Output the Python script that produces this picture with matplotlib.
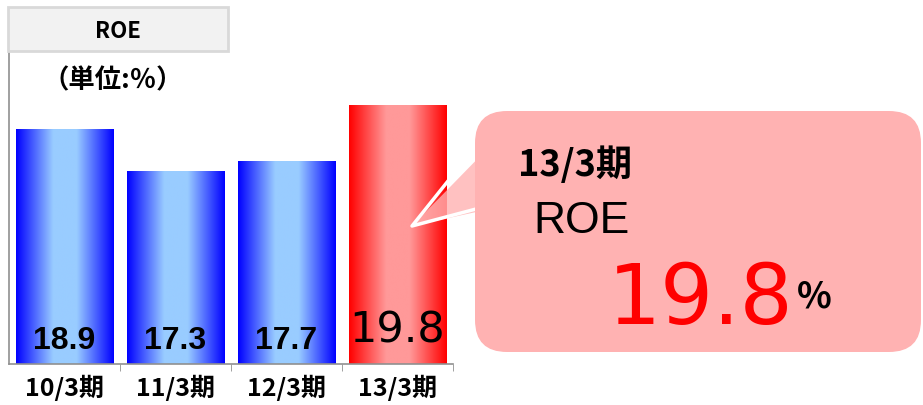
import matplotlib
matplotlib.use("Agg")
import matplotlib.pyplot as plt
import numpy as np
from matplotlib.colors import LinearSegmentedColormap
from matplotlib.patches import FancyBboxPatch, Rectangle, Polygon

plt.rcParams['font.family'] = ['Noto Sans CJK JP', 'DejaVu Sans']

periods = ["10/3期", "11/3期", "12/3期", "13/3期"]
roe = [18.9, 17.3, 17.7, 19.8]
labels = ["18.9", "17.3", "17.7", "19.8"]

W, H = 923, 406
fig = plt.figure(figsize=(W / 100, H / 100), dpi=100)
ax = fig.add_axes([9 / W, 41 / H, 444 / W, 317 / H])

blue = LinearSegmentedColormap.from_list(
    "b", [(0, "#0000ff"), (0.38, "#99ccff"), (0.62, "#99ccff"), (1, "#0000ff")])
red = LinearSegmentedColormap.from_list(
    "r", [(0, "#ff0000"), (0.38, "#ff9999"), (0.62, "#ff9999"), (1, "#ff0000")])

YMIN, YMAX = 10, 22
x = np.arange(len(roe))
bars = ax.bar(x, [v - YMIN for v in roe], bottom=YMIN, width=0.88,
              facecolor="none", edgecolor="none")
grad = np.linspace(0, 1, 256).reshape(1, -1)
for i, b in enumerate(bars):
    cm = red if i == len(roe) - 1 else blue
    x0, y0 = b.get_x(), b.get_y()
    im = ax.imshow(grad, cmap=cm, aspect="auto",
                   extent=(x0, x0 + b.get_width(), y0, y0 + b.get_height()),
                   zorder=2)
    im.set_clip_path(b)

ax.set_xlim(-0.5, 3.5)
ax.set_ylim(YMIN, YMAX)
for s in ["top", "right"]:
    ax.spines[s].set_visible(False)
for s in ["left", "bottom"]:
    ax.spines[s].set_color("#909090")
    ax.spines[s].set_linewidth(1.2)
ax.set_yticks([])
ax.set_xticks(x)
ax.set_xticklabels(periods, fontsize=18, fontweight="bold")
ax.tick_params(axis="x", length=0, pad=7)
ax.set_xticks([0.5, 1.5, 2.5, 3.5], minor=True)
ax.tick_params(axis="x", which="minor", length=5, color="#909090", direction="out")

for i, (v, lab) in enumerate(zip(roe, labels)):
    if i == len(roe) - 1:
        ax.annotate(lab, xy=(i, YMIN), xytext=(0, 34), textcoords="offset pixels",
                    ha="center", va="center", fontsize=31, family="DejaVu Sans",
                    color="black", zorder=5)
    else:
        ax.annotate(lab, xy=(i, YMIN), xytext=(0, 24), textcoords="offset pixels",
                    ha="center", va="center", fontsize=23, family="Liberation Sans",
                    fontweight="bold", color="black", zorder=5)

# overlay in pixel coordinates for title box and callout
ov = fig.add_axes([0, 0, 1, 1], zorder=10)
ov.set_xlim(0, W)
ov.set_ylim(H, 0)
ov.axis("off")
ov.patch.set_alpha(0)

ov.add_patch(Rectangle((8, 8), 220, 44, facecolor="#f2f2f2",
                       edgecolor="#d9d9d9", linewidth=2))
ov.text(118, 31, "ROE", ha="center", va="center", fontsize=16, fontweight="bold")
ov.text(113, 81, "（単位:％）", ha="center", va="center", fontsize=19, fontweight="bold")

pink = "#ffb2b2"
tri = [(490, 147), (412, 227), (490, 210)]
ov.add_patch(Polygon(tri, closed=True, facecolor=pink, alpha=0.8,
                     edgecolor="none", zorder=1))
ov.plot([476, 412, 476], [147, 227, 210], color="white", lw=2.5, zorder=1.5)
ov.add_patch(FancyBboxPatch((475, 112), 446, 241,
                            boxstyle="round,pad=0,rounding_size=32",
                            facecolor=pink, edgecolor="none", zorder=2))

ov.text(518, 165, "13/3期", ha="left", va="center", fontsize=26,
        fontweight="bold", zorder=3)
ov.text(533, 222, "ROE", ha="left", va="center", fontsize=32,
        family="Liberation Sans", zorder=3)
ov.text(701, 301, "19.8", ha="center", va="center", fontsize=60,
        family="DejaVu Sans", color="#ff0000", zorder=3)
ov.text(814, 297, "%", ha="center", va="center", fontsize=26,
        fontweight="bold", zorder=3)

fig.savefig("out.png", dpi=100)
